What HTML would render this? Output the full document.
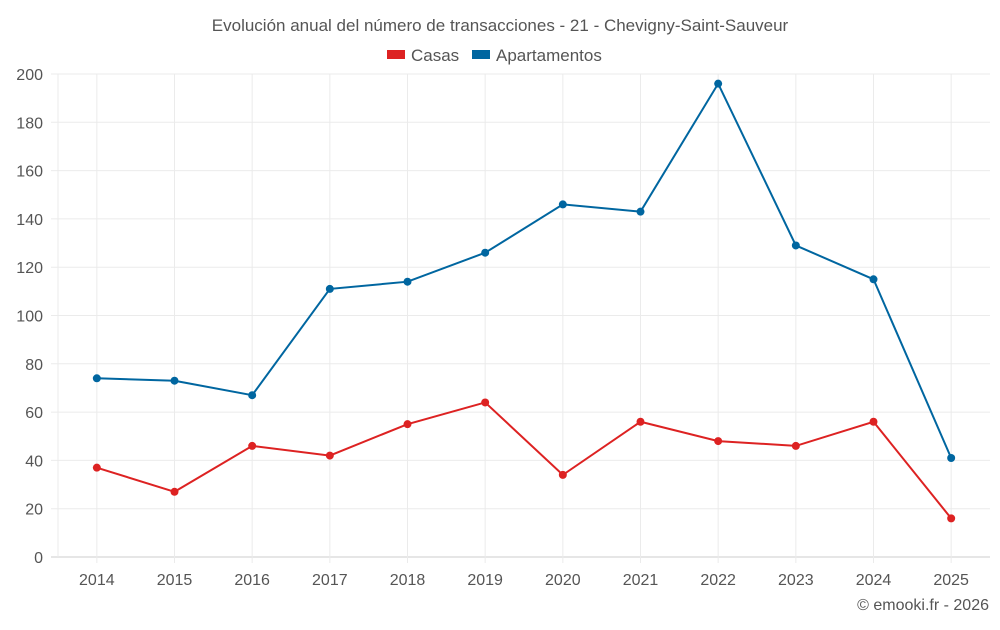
<!DOCTYPE html>
<html><head><meta charset="utf-8"><style>
body{margin:0;background:#fff;font-family:"Liberation Sans",sans-serif}
svg text{font-family:"Liberation Sans",sans-serif;fill:#555}
</style></head><body>
<svg id="chart" width="1000" height="625" viewBox="0 0 1000 625">
<text x="500" y="31" text-anchor="middle" font-size="17">Evolución anual del número de transacciones - 21 - Chevigny-Saint-Sauveur</text>
<g><rect x="387" y="50" width="18" height="9" fill="#dd2222"/><text x="411" y="61" font-size="17">Casas</text></g>
<g><rect x="472" y="50" width="18" height="9" fill="#0066a0"/><text x="496" y="61" font-size="17">Apartamentos</text></g>
<g id="grid"></g><g id="axes"></g><g id="series"></g>
<text x="989" y="610" text-anchor="end" font-size="16">© emooki.fr - 2026</text>
</svg>
<script>
const categories=["2014","2015","2016","2017","2018","2019","2020","2021","2022","2023","2024","2025"];
const casas=[37,27,46,42,55,64,34,56,48,46,56,16];
const apartamentos=[74,73,67,111,114,126,146,143,196,129,115,41];
const yTicks=[0,20,40,60,80,100,120,140,160,180,200];
const NS="http://www.w3.org/2000/svg";
const L=58,R=990,T=74,B=557,yMax=200;
const bw=(R-L)/categories.length;
const x=i=>L+bw*(i+0.5);
const y=v=>B-(v/yMax)*(B-T);
function mk(tag,attrs,parent){const e=document.createElementNS(NS,tag);for(const k in attrs)e.setAttribute(k,attrs[k]);parent.appendChild(e);return e;}
const grid=document.getElementById('grid'),axes=document.getElementById('axes'),ser=document.getElementById('series');
yTicks.forEach(t=>{
 const g=mk('line',{x1:51,x2:R,y1:y(t),y2:y(t),stroke:t===0?'#ccc':'#ebebeb','stroke-width':1},grid);
 
 
 const tx=mk('text',{x:43,y:y(t)+6,'text-anchor':'end','font-size':16},axes);
 tx.textContent=t;
 
 
});
const ax=mk('line',{x1:L,x2:L,y1:T,y2:B,stroke:'#ebebeb'},grid);


categories.forEach((c,i)=>{
 const g=mk('line',{x1:x(i),x2:x(i),y1:T,y2:B+6,stroke:'#ebebeb'},grid);
 
 
 const tx=mk('text',{x:x(i),y:585,'text-anchor':'middle','font-size':16},axes);
 tx.textContent=c;
 
 
});
function draw(vals,color,name){
 const p=mk('polyline',{points:vals.map((v,i)=>x(i)+','+y(v)).join(' '),fill:'none',stroke:color,'stroke-width':2},ser);
 
 
 vals.forEach((v,i)=>{
  const c=mk('circle',{cx:x(i),cy:y(v),r:4,fill:color},ser);
  
  
 });
}
draw(apartamentos,'#0066a0','apartamentos');
draw(casas,'#dd2222','casas');
</script>
</body></html>
